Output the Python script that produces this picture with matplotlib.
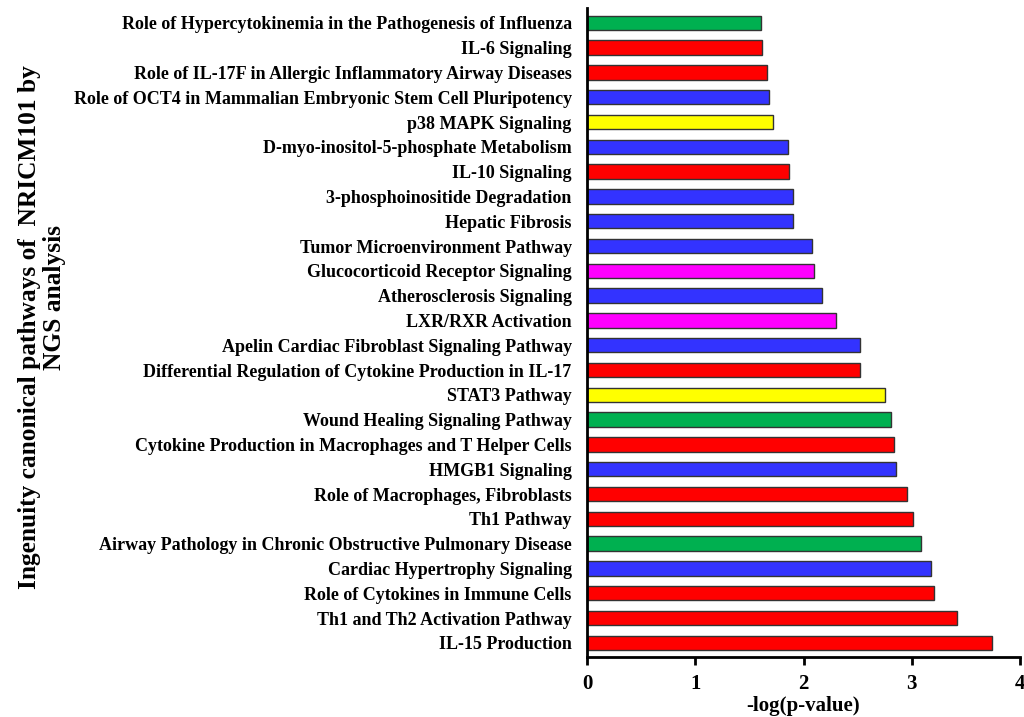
import matplotlib
matplotlib.use("Agg")
import matplotlib.pyplot as plt

pathways = [
    "Role of Hypercytokinemia in the Pathogenesis of Influenza",
    "IL-6 Signaling",
    "Role of IL-17F in Allergic Inflammatory Airway Diseases",
    "Role of OCT4 in Mammalian Embryonic Stem Cell Pluripotency",
    "p38 MAPK Signaling",
    "D-myo-inositol-5-phosphate Metabolism",
    "IL-10 Signaling",
    "3-phosphoinositide Degradation",
    "Hepatic Fibrosis",
    "Tumor Microenvironment Pathway",
    "Glucocorticoid Receptor Signaling",
    "Atherosclerosis Signaling",
    "LXR/RXR Activation",
    "Apelin Cardiac Fibroblast Signaling Pathway",
    "Differential Regulation of Cytokine Production in IL-17",
    "STAT3 Pathway",
    "Wound Healing Signaling Pathway",
    "Cytokine Production in Macrophages and T Helper Cells",
    "HMGB1 Signaling",
    "Role of Macrophages, Fibroblasts",
    "Th1 Pathway",
    "Airway Pathology in Chronic Obstructive Pulmonary Disease",
    "Cardiac Hypertrophy Signaling",
    "Role of Cytokines in Immune Cells",
    "Th1 and Th2 Activation Pathway",
    "IL-15 Production",
]

neg_log_p = [1.61, 1.62, 1.66, 1.68, 1.72, 1.86, 1.87, 1.90, 1.90, 2.08,
             2.10, 2.17, 2.30, 2.52, 2.52, 2.75, 2.81, 2.84, 2.85, 2.96,
             3.01, 3.09, 3.18, 3.21, 3.42, 3.74]

groups = ["green", "red", "red", "blue", "yellow", "blue", "red", "blue",
          "blue", "blue", "magenta", "blue", "magenta", "blue", "red",
          "yellow", "green", "red", "blue", "red", "red", "green", "blue",
          "red", "red", "red"]

palette = {"green": "#00b050", "red": "#ff0000", "blue": "#3333ff",
           "yellow": "#ffff00", "magenta": "#ff00ff"}

plt.rcParams["font.family"] = ["Liberation Serif", "DejaVu Serif"]
plt.rcParams["font.weight"] = "bold"

W, H = 1024, 717
fig = plt.figure(figsize=(W / 100, H / 100), dpi=100)
ax_left, ax_right, ax_top, ax_bottom = 587, 1020, 8, 657
ax = fig.add_axes([ax_left / W, (H - ax_bottom) / H,
                   (ax_right - ax_left) / W, (ax_bottom - ax_top) / H])

n = len(pathways)
ypos = list(range(n))
ax.barh(ypos, neg_log_p, height=0.58,
        color=[palette[g] for g in groups],
        edgecolor="#333333", linewidth=1.0)

ax.set_ylim(n - 0.43, -0.6)
ax.set_xlim(0, 4)
ax.set_yticks(ypos)
ax.set_yticklabels(pathways, fontsize=13, fontweight="bold")
ax.tick_params(axis="y", length=0, pad=11)
ax.set_xticks([0, 1, 2, 3, 4])
ax.set_xticklabels(["0", "1", "2", "3", "4"], fontsize=15, fontweight="bold")
ax.tick_params(axis="x", direction="out", length=6, width=2, pad=6)

for side in ("top", "right"):
    ax.spines[side].set_visible(False)
for side in ("left", "bottom"):
    ax.spines[side].set_linewidth(2)

ax.set_xlabel("-log(p-value)", fontsize=15, fontweight="bold", labelpad=2)

# two-line rotated axis title, each line anchored on its baseline
fig.text(36 / W, 1 - 327 / H, "Ingenuity canonical pathways of  NRICM101 by",
         rotation=90, rotation_mode="anchor", ha="center", va="baseline",
         fontsize=18.3, fontweight="bold")
fig.text(61 / W, 1 - 297 / H, "NGS analysis",
         rotation=90, rotation_mode="anchor", ha="center", va="baseline",
         fontsize=18.3, fontweight="bold")

fig.savefig("out.png", dpi=100)
